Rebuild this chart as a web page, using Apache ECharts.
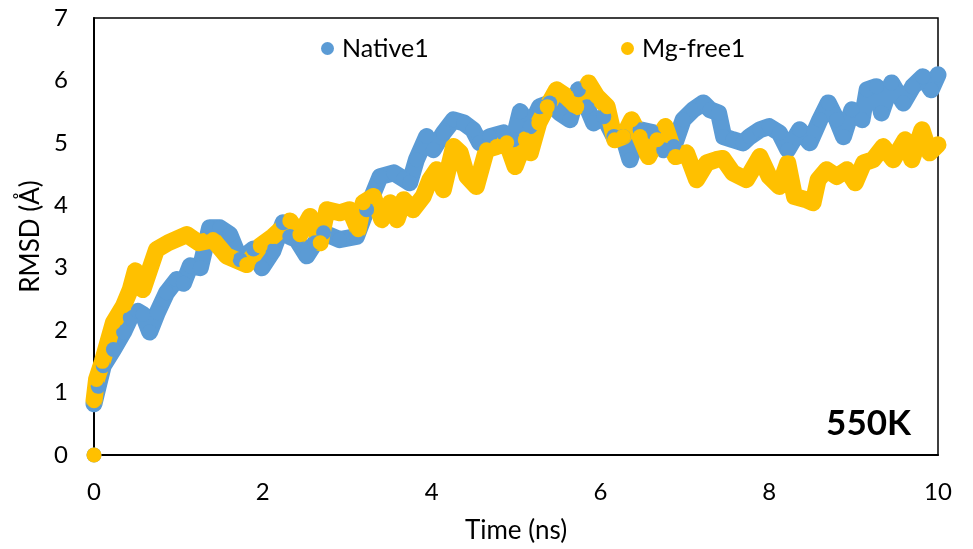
<!doctype html>
<html>
    <head>
        <meta charset="utf-8">
        <style>
            html, body { margin: 0; padding: 0; background: #fff; }
            #main { width: 973px; height: 549px; }
        </style>
    </head>
    <body>
        <div id="main"></div>
        <script src="https://cdn.jsdelivr.net/npm/echarts@6/dist/echarts.min.js"></script>
        <script>
            // time (ns) and RMSD (A)
            var nativeT = [0, 0.05, 0.11, 0.23, 0.35, 0.43, 0.52, 0.58, 0.66, 0.75, 0.86, 0.98, 1.06, 1.14, 1.26, 1.37, 1.49, 1.61, 1.73, 1.89,
                1.99, 2.12, 2.24, 2.32, 2.40, 2.52, 2.62, 2.72, 2.91, 3.11, 3.23, 3.39, 3.55, 3.67, 3.74, 3.82, 3.94, 4.02, 4.14, 4.26,
                4.38, 4.49, 4.57, 4.69, 4.85, 4.97, 5.05, 5.17, 5.28, 5.40, 5.52, 5.64, 5.74, 5.84, 5.92, 6.04, 6.16, 6.27, 6.35, 6.47,
                6.63, 6.75, 6.87, 6.98, 7.10, 7.22, 7.30, 7.40, 7.46, 7.57, 7.69, 7.77, 7.89, 8.00, 8.12, 8.22, 8.36, 8.48, 8.60, 8.70,
                8.80, 8.88, 8.98, 9.10, 9.16, 9.27, 9.33, 9.45, 9.59, 9.70, 9.82, 9.92, 10.0];
            var nativeV = [0.82, 1.1, 1.43, 1.69, 1.97, 2.2, 2.3, 2.25, 1.97, 2.28, 2.6, 2.81, 2.75, 3.03, 3.0, 3.64, 3.64, 3.53, 3.13, 3.3,
                3.0, 3.27, 3.72, 3.5, 3.45, 3.19, 3.4, 3.56, 3.45, 3.5, 3.93, 4.46, 4.52, 4.42, 4.36, 4.73, 5.1, 4.89, 5.16, 5.37,
                5.32, 5.21, 5.0, 5.1, 5.16, 5.05, 5.5, 5.26, 5.58, 5.64, 5.48, 5.37, 5.85, 5.58, 5.32, 5.42, 5.1, 5.1, 4.73, 5.21,
                5.16, 4.89, 4.94, 5.37, 5.53, 5.64, 5.53, 5.48, 5.1, 5.05, 5.0, 5.1, 5.21, 5.26, 5.16, 4.89, 5.21, 5.0, 5.37, 5.64,
                5.37, 5.1, 5.53, 5.37, 5.85, 5.9, 5.48, 5.96, 5.64, 5.9, 6.06, 5.85, 6.09];

            var mgT = [0, 0.03, 0.1, 0.23, 0.35, 0.43, 0.49, 0.58, 0.74, 0.88, 1.10, 1.24, 1.41, 1.57, 1.81, 1.97, 2.12, 2.32, 2.44, 2.56,
                2.68, 2.76, 2.91, 3.03, 3.13, 3.19, 3.31, 3.41, 3.51, 3.59, 3.67, 3.78, 3.90, 3.98, 4.06, 4.14, 4.26, 4.34, 4.42, 4.53,
                4.65, 4.77, 4.89, 4.99, 5.11, 5.17, 5.27, 5.37, 5.48, 5.60, 5.72, 5.86, 5.96, 6.08, 6.17, 6.27, 6.37, 6.47, 6.57, 6.67,
                6.77, 6.89, 7.02, 7.14, 7.26, 7.37, 7.45, 7.57, 7.73, 7.89, 8.00, 8.12, 8.22, 8.30, 8.44, 8.52, 8.58, 8.68, 8.80, 8.92,
                9.02, 9.12, 9.23, 9.35, 9.47, 9.61, 9.69, 9.81, 9.90, 10.0];
            var mgV = [0.87, 1.21, 1.5, 2.12, 2.39, 2.65, 2.95, 2.65, 3.29, 3.4, 3.53, 3.4, 3.45, 3.19, 3.05, 3.35, 3.5, 3.75, 3.53, 3.82,
                3.4, 3.93, 3.88, 3.93, 3.61, 4.04, 4.14, 3.77, 4.04, 3.77, 4.09, 3.93, 4.14, 4.41, 4.57, 4.25, 4.94, 4.84, 4.46, 4.3,
                4.89, 4.94, 5.0, 4.62, 5.05, 4.84, 5.32, 5.58, 5.85, 5.74, 5.58, 5.96, 5.74, 5.58, 5.05, 5.1, 5.37, 5.1, 4.78, 5.05,
                5.26, 4.78, 4.84, 4.41, 4.68, 4.73, 4.75, 4.52, 4.41, 4.78, 4.46, 4.3, 4.68, 4.14, 4.09, 4.04, 4.41, 4.57, 4.46, 4.57,
                4.36, 4.68, 4.73, 4.94, 4.73, 5.05, 4.73, 5.21, 4.84, 4.97];

            // first frame of each run sits at the origin, not joined to the rest
            var startPoint = [0, 0];

            var xTicks = [0, 2, 4, 6, 8, 10];
            var yTicks = [0, 1, 2, 3, 4, 5, 6, 7];

            var BLUE = '#5B9BD5';
            var GOLD = '#FFC000';
            var FONT = 'Lato';

            function pairs(t, v) {
                var out = [startPoint, [0, '-']];
                for (var i = 0; i < t.length; i++) {
                    out.push([t[i], v[i]]);
                }
                return out;
            }

            function runSeries(name, color, t, v) {
                return {
                    name: name,
                    type: 'line',
                    data: pairs(t, v),
                    symbol: 'circle',
                    symbolSize: 15,
                    showSymbol: true,
                    connectNulls: false,
                    itemStyle: { color: color },
                    lineStyle: { color: color, width: 17, cap: 'round', join: 'round' },
                    emphasis: { disabled: true },
                    animation: false
                };
            }

            var chart = echarts.init(document.getElementById('main'));

            var legendText = { fontFamily: FONT, fontSize: 25, color: '#000', padding: [0, 0, 0, 3] };

            chart.setOption({
                textStyle: { fontFamily: FONT },
                grid: {
                    left: 94, right: 35, top: 18, bottom: 93,
                    show: true, borderColor: '#000', borderWidth: 1.5,
                    containLabel: false
                },
                legend: [{
                    data: ['Native1'],
                    left: 316, top: 31,
                    icon: 'circle', itemWidth: 13, itemHeight: 13,
                    textStyle: legendText
                }, {
                    data: ['Mg-free1'],
                    left: 616, top: 31,
                    icon: 'circle', itemWidth: 13, itemHeight: 13,
                    textStyle: legendText
                }],
                title: {
                    text: '550K',
                    right: 57, top: 401,
                    textStyle: { fontFamily: FONT, fontSize: 35, fontWeight: 'bold', color: '#000' }
                },
                xAxis: {
                    type: 'value',
                    min: xTicks[0], max: xTicks[xTicks.length - 1], interval: 2,
                    name: 'Time (ns)', nameLocation: 'middle', nameGap: 63,
                    nameTextStyle: { fontFamily: FONT, fontSize: 26, color: '#000' },
                    axisLine: { show: true, lineStyle: { color: '#000', width: 2 } },
                    axisTick: { show: false },
                    splitLine: { show: false },
                    axisLabel: { margin: 25, fontFamily: FONT, fontSize: 24, color: '#000' }
                },
                yAxis: {
                    type: 'value',
                    min: yTicks[0], max: yTicks[yTicks.length - 1], interval: 1,
                    name: 'RMSD (Å)', nameLocation: 'middle', nameGap: 47,
                    nameTextStyle: { fontFamily: FONT, fontSize: 26, color: '#000' },
                    axisLine: { show: true, lineStyle: { color: '#000', width: 2 } },
                    axisTick: { show: false },
                    splitLine: { show: false },
                    axisLabel: { margin: 26, fontFamily: FONT, fontSize: 24, color: '#000' }
                },
                series: [
                    runSeries('Native1', BLUE, nativeT, nativeV),
                    runSeries('Mg-free1', GOLD, mgT, mgV)
                ]
            });

            window.addEventListener('resize', function () {
                chart.resize();
            });
        </script>
    </body>
</html>
